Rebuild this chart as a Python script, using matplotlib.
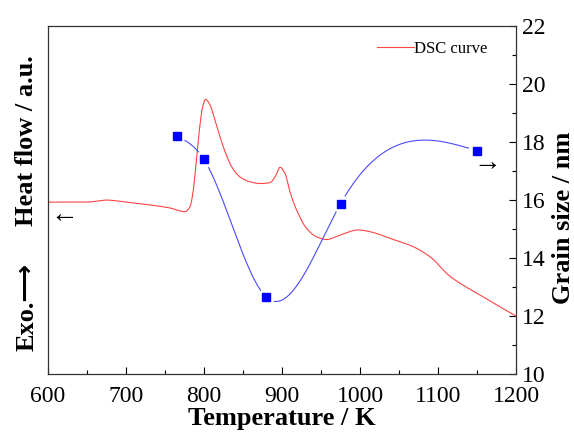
import numpy as np
import matplotlib
matplotlib.use("Agg")
import matplotlib.pyplot as plt
from matplotlib.ticker import MultipleLocator

plt.rcParams['font.family'] = ['Liberation Serif', 'DejaVu Serif']

# DSC curve (plotted in right-axis units)
dsc_temp = [600, 650, 675, 700, 756, 775.6, 782, 786.3, 789.7, 794, 798.3, 802, 807.7,
            814, 820.5, 827, 835.5, 846, 859, 872, 884.6, 892.3, 897.4, 903.8, 910,
            918.8, 931.6, 944.4, 957.3, 974, 997.8, 1012.8, 1038.5, 1068.4, 1090,
            1115, 1158, 1200]
dsc_heat = [15.93, 15.93, 16.0, 15.93, 15.73, 15.6, 15.77, 16.34, 17.27, 18.41, 19.22,
            19.47, 19.28, 18.76, 18.18, 17.67, 17.15, 16.8, 16.63, 16.57, 16.6, 16.86,
            17.13, 16.92, 16.3, 15.65, 15.02, 14.73, 14.64, 14.79, 14.97, 14.91, 14.68,
            14.39, 14.04, 13.38, 12.66, 12.0]

# grain size measurements
grain_temp = [765, 800, 880, 975, 1150]
grain_size = [18.2, 17.4, 12.65, 15.87, 17.7]


def pchip(x, y, xn):
    x = np.asarray(x, float)
    y = np.asarray(y, float)
    h = np.diff(x)
    d = np.diff(y) / h
    m = np.zeros_like(y)
    m[0], m[-1] = d[0], d[-1]
    for k in range(1, len(x) - 1):
        if d[k - 1] * d[k] > 0:
            w1 = 2 * h[k] + h[k - 1]
            w2 = h[k] + 2 * h[k - 1]
            m[k] = (w1 + w2) / (w1 / d[k - 1] + w2 / d[k])
    idx = np.clip(np.searchsorted(x, xn) - 1, 0, len(x) - 2)
    t = (xn - x[idx]) / h[idx]
    h00 = 2 * t**3 - 3 * t**2 + 1
    h10 = t**3 - 2 * t**2 + t
    h01 = -2 * t**3 + 3 * t**2
    h11 = t**3 - t**2
    return h00 * y[idx] + h10 * h[idx] * m[idx] + h01 * y[idx + 1] + h11 * h[idx] * m[idx + 1]


def natural_spline(x, y, xn):
    x = np.asarray(x, float)
    y = np.asarray(y, float)
    n = len(x)
    h = np.diff(x)
    A = np.zeros((n, n))
    b = np.zeros(n)
    A[0, 0] = A[-1, -1] = 1
    for i in range(1, n - 1):
        A[i, i - 1] = h[i - 1]
        A[i, i] = 2 * (h[i - 1] + h[i])
        A[i, i + 1] = h[i]
        b[i] = 6 * ((y[i + 1] - y[i]) / h[i] - (y[i] - y[i - 1]) / h[i - 1])
    M = np.linalg.solve(A, b)
    idx = np.clip(np.searchsorted(x, xn) - 1, 0, n - 2)
    dx1 = x[idx + 1] - xn
    dx0 = xn - x[idx]
    hi = h[idx]
    return (M[idx] * dx1**3 / (6 * hi) + M[idx + 1] * dx0**3 / (6 * hi)
            + (y[idx] / hi - M[idx] * hi / 6) * dx1
            + (y[idx + 1] / hi - M[idx + 1] * hi / 6) * dx0)


fig = plt.figure(figsize=(5.74, 4.34), dpi=100)
ax = fig.add_axes([0.0836, 0.138, 0.8154, 0.802])
ax.set_xlim(600, 1200)
ax.set_ylim(10, 22)

# DSC curve
tx = np.linspace(600, 1200, 1500)
ax.plot(tx, pchip(dsc_temp, dsc_heat, tx), color='#ff4444', lw=0.8, label='DSC curve')

# grain size spline with gaps round the symbols
gx = np.linspace(grain_temp[0], grain_temp[-1], 800)
gy = natural_spline(grain_temp, grain_size, gx)
pts = ax.transData.transform(np.column_stack([gx, gy]))
mk = ax.transData.transform(np.column_stack([grain_temp, grain_size]))
dist = np.min(np.hypot(pts[:, None, 0] - mk[None, :, 0], pts[:, None, 1] - mk[None, :, 1]), axis=1)
gy_gap = np.where(dist < 9, np.nan, gy)
ax.plot(gx, gy_gap, color='#4a4aff', lw=0.8)
ax.plot(grain_temp, grain_size, 's', color='#0000ff', ms=6, mec='#0000ff')

# ticks
ax.xaxis.set_major_locator(MultipleLocator(100))
ax.xaxis.set_minor_locator(MultipleLocator(50))
ax.yaxis.set_major_locator(MultipleLocator(2))
ax.yaxis.set_minor_locator(MultipleLocator(1))
ax.yaxis.tick_right()
ax.tick_params(axis='both', which='both', direction='in', top=False, left=False)
ax.tick_params(axis='both', which='major', length=5, width=0.8, labelsize=17)
ax.tick_params(axis='x', which='major', pad=8.5)
ax.tick_params(axis='y', which='major', pad=4)
ax.tick_params(axis='both', which='minor', length=3, width=0.8)
for s in ax.spines.values():
    s.set_linewidth(0.9)
    s.set_color('#333333')

ax.set_xlabel('Temperature / K', fontsize=19, fontweight='bold', labelpad=0)
ax.yaxis.set_label_position('right')
ax.set_ylabel('Grain size / nm', fontsize=19, fontweight='bold')
ax.yaxis.set_label_coords(1.077, 0.45)

fig.text(0.047, 0.293, 'Exo.\u27f6', rotation=90, fontsize=19,
         fontweight='bold', ha='center', va='center',
         family=['Liberation Serif', 'DejaVu Sans'])
fig.text(0.047, 0.676, 'Heat flow / a.u.', rotation=90, fontsize=19,
         fontweight='bold', ha='center', va='center')

ax.text(621, 15.45, '\u2190', fontsize=20, ha='center', va='center')
ax.text(1163, 17.25, '\u2192', fontsize=20, ha='center', va='center')

leg = ax.legend(loc='upper right', bbox_to_anchor=(0.96, 0.985), frameon=False,
                fontsize=12, handlelength=2.2, handletextpad=0.0, borderaxespad=0.2)

fig.savefig('out.png', dpi=100)
